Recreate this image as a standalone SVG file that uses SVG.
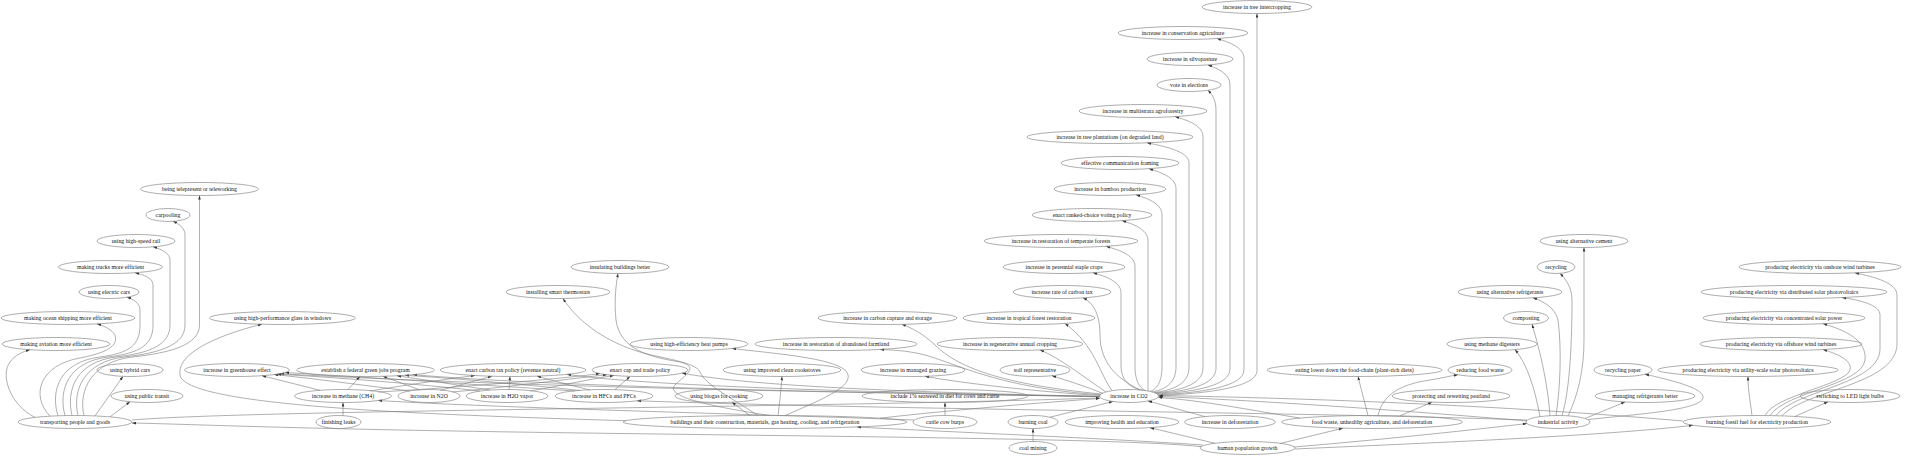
<svg xmlns="http://www.w3.org/2000/svg" width="1920" height="457" viewBox="0 0 1920 457">
<style>
.node ellipse{fill:none;stroke:#8a8a8a;stroke-width:0.7}
.node text{font-family:"Liberation Serif","Times New Roman",serif;font-size:5.8px;text-anchor:middle;fill:#111}
.edges path{fill:none;stroke:#7a7a7a;stroke-width:0.6;marker-end:url(#arr)}
</style>
<defs>
<marker id="arr" viewBox="0 0 6 4" refX="6" refY="2" markerWidth="4" markerHeight="3" markerUnits="userSpaceOnUse" orient="auto"><path d="M0,0 L6,2 L0,4 z" fill="#333"/></marker>
</defs>
<rect width="1920" height="457" fill="#fff"/>
<g id="edges" class="edges">
<!-- CO2 column -->
<path d="M1140 390 C1120 380 1100 365 1100 335 C1100 315 1094 303 1083 297.9"/>
<path d="M1143 390.3 C1132 388.3 1121 382.3 1121 365.3 L1121 292.7 C1121 280.7 1102.8 275.7 1093 272.7"/>
<path d="M1146 390.7 C1140.5 388.7 1135 382.7 1135 365.7 L1135 266.3 C1135 254.3 1116.2 249.3 1106 246.3"/>
<path d="M1148 391 C1148 389 1148 383 1148 366 L1148 240.6 C1148 228.6 1131.1 223.6 1122 220.6"/>
<path d="M1150 391.4 C1156 389.4 1162 383.4 1162 366.4 L1162 214.8 C1162 202.8 1145.1 197.8 1136 194.8"/>
<path d="M1152 391.9 C1164 389.9 1176 383.9 1176 366.9 L1176 188.7 C1176 176.7 1158.5 171.7 1149 168.7"/>
<path d="M1154 392.5 C1171.5 390.5 1189 384.5 1189 367.5 L1189 162.8 C1189 150.8 1161.7 145.8 1147 142.8"/>
<path d="M1155 392.9 C1179 390.9 1203 384.9 1203 367.9 L1203 136.6 C1203 124.6 1184.8 119.6 1175 116.6"/>
<path d="M1156 393.4 C1186 391.4 1216 385.4 1216 368.4 L1216 110.2 C1216 98.2 1210.8 93.2 1208 90.2"/>
<path d="M1157 394 C1193.5 392 1230 386 1230 369 L1230 84.9 C1230 72.9 1215.7 67.9 1208 64.9"/>
<path d="M1158 394.8 C1201 392.8 1244 386.8 1244 369.8 L1244 58.5 C1244 46.5 1226.5 41.5 1217 38.5"/>
<path d="M1158.5 395.5 C1207 393.5 1257 387.5 1257 370.5 L1257 13.5"/>
<!-- CO2 to nearby -->
<path d="M1101 394 C1010 385 960 370 935 345 C922 333 912 328 902 324.4"/>
<path d="M1112 390.5 C1100 375 1095 345 1065 323.5"/>
<path d="M1106 392 C1085 378 1060 358 1040 349.9"/>
<path d="M1103 393.5 C1085 386 1065 380 1052 375.7"/>
<path d="M1100 395.5 C1040 392 960 383 925 376.3"/>
<path d="M1101 394.8 C1000 388 960 365 925 355 C905 350 890 350 880 349.5"/>
<path d="M1099.5 396.5 C800 392 500 386 280 373.7"/>
<path d="M1099.5 396.5 C800 392 550 386 413 374.7"/>
<path d="M1099.5 396.5 C850 392 650 386 567 374.4"/>
<path d="M1099.5 396.5 C900 392 750 386 682 373.1"/>
<!-- gases -->
<path d="M320 390.3 L262 375.7"/>
<path d="M348 389.6 L360 376.5"/>
<path d="M370 391 C400 386 440 380 475 375.5"/>
<path d="M378 392 C450 388 550 380 600 373.6"/>
<path d="M410 391 C360 385 310 378 274 374.6"/>
<path d="M420 390 L383 376.3"/>
<path d="M440 390.5 L492 376.2"/>
<path d="M452 392 C500 388 560 380 607 374.7"/>
<path d="M480 391 C420 384 330 377 277 374.2"/>
<path d="M490 390 C450 384 420 379 397 375.8"/>
<path d="M509 389.5 L510 376.5"/>
<path d="M530 391 C560 386 590 379 614 375.5"/>
<path d="M575 391 C480 385 350 376 285 372.6"/>
<path d="M580 390.5 C520 384 450 378 405 375.3"/>
<path d="M590 390 C570 385 550 380 537 376.1"/>
<path d="M615 389.7 L630 376.4"/>
<path d="M343 415.5 L343 402.5"/>
<path d="M945 415.5 L945 402.5"/>
<path d="M914 420 C750 414 500 408 378 400.5"/>
<path d="M1527 420 C1300 412 900 410 637 400.8"/>
<!-- transport -->
<path d="M35 417.4 C10 405 0 375 10 362 C15 355 22 352 30 349.7"/>
<path d="M50 416.2 C30 395 40 365 80 358 C110 352 118 345 115 335 C112 330 105 326 97 323.9"/>
<path d="M58 415.8 C50 390 60 362 100 357 C130 353 140 345 140 325 L140 310 C140 303 133 299 127 297.2"/>
<path d="M65 415.6 C58 390 68 362 108 357 C140 353 153 345 153 325 L153 285 C153 278 144 275 135 272.7"/>
<path d="M72 415.5 C66 390 76 362 116 357 C150 353 170 345 170 325 L170 260 C170 253 161 249 153 246.8"/>
<path d="M78 415.5 C72 390 84 362 124 357 C160 353 185 345 185 325 L185 235 C185 228 179 224 173 221.3"/>
<path d="M84 415.6 C78 390 92 362 132 357 C170 353 199.5 345 199.5 325 L199.5 195.5"/>
<path d="M95 415.9 L123 376.4"/>
<path d="M110 416.9 L130 401.7"/>
<path d="M132 420 C250 410 800 408 1099.7 398"/>
<!-- population -->
<path d="M1201 446.7 C1120 437 700 436 400 430 C250 427 180 424 132 423"/>
<path d="M1203 445 C1100 438 950 432 857 427"/>
<path d="M1215 443.3 L1150 427.7"/>
<path d="M1280 443.5 L1343 428.2"/>
<path d="M1294 447 C1400 438 1470 430 1527 423.6"/>
<path d="M1295 449 C1450 442 1600 436 1693 425.3"/>
<path d="M1033 441.5 L1033 428.5"/>
<path d="M1050 417.2 L1113 401.5"/>
<path d="M1205 416.6 L1148 401"/>
<path d="M1300 418.1 C1250 410 1200 400 1158.5 397.5"/>
<path d="M1527 421 C1400 410 1250 400 1158.7 396.5"/>
<path d="M1683 421 C1500 405 1300 398 1158.7 395.5"/>
<!-- food waste -->
<path d="M1368 415.5 L1358 376.5"/>
<path d="M1378 415.6 C1382 398 1395 385 1430 380 C1442 378 1450 376 1458 374.7"/>
<path d="M1400 415.8 L1432 402.2"/>
<!-- industrial -->
<path d="M1568 416 C1578 395 1584 370 1584 340 L1584 247.5"/>
<path d="M1562 415.5 C1570 390 1572 340 1572 300 C1572 288 1566 279 1560 273.4"/>
<path d="M1556 415.5 C1560 390 1562 350 1558 320 C1555 308 1545 302 1533 297.8"/>
<path d="M1550 415.8 C1548 385 1540 350 1532 324.3"/>
<path d="M1540 416.6 C1535 390 1528 365 1515 349.6"/>
<path d="M1588 419.5 C1640 414 1700 410 1703 398 C1705 388 1670 380 1645 374.2"/>
<path d="M1585 418.5 L1625 402"/>
<!-- fossil -->
<path d="M1752 415.5 C1750 400 1748 390 1748 376.5"/>
<path d="M1795 416.4 L1828 401.8"/>
<path d="M1765 415.5 C1775 395 1845 385 1850 370 C1853 360 1835 353 1823 349.6"/>
<path d="M1770 415.6 C1785 392 1862 385 1865 360 C1867 340 1845 330 1823 323.7"/>
<path d="M1776 415.7 C1795 390 1878 385 1880 350 L1880 315 C1880 305 1860 300 1842 297.6"/>
<path d="M1782 415.9 C1805 390 1895 385 1897 345 L1897 295 C1897 283 1875 277 1855 272.9"/>
<!-- buildings -->
<path d="M626 420.7 C400 414 185 405 180 375 C176 350 230 332 262 324.2"/>
<path d="M770 415.5 C700 405 665 395 675 385 C685 375 700 367 680 362 C650 357 620 350 616 320 C614 300 616 285 618 273.5"/>
<path d="M758 415.6 C735 400 705 385 700 372 C696 362 660 358 640 352 C610 343 580 325 563 298.5"/>
<path d="M785 415.6 C820 400 860 385 845 370 C830 358 780 354 732 348.5"/>
<path d="M778 415.6 C780 400 781 390 782 376.5"/>
<path d="M750 415.7 L732 402.2"/>
<path d="M880 418.2 C950 410 1050 402 1099.6 398.5"/>
</g>
<g id="n-tree-intercropping" class="node"><ellipse cx="1257" cy="7" rx="55" ry="6.5"/><text x="1257" y="9">increase in tree intercropping</text></g>
<g id="n-conservation" class="node"><ellipse cx="1183" cy="33" rx="65" ry="6.5"/><text x="1183" y="35">increase in conservation agriculture</text></g>
<g id="n-silvopasture" class="node"><ellipse cx="1190" cy="59" rx="43" ry="6.5"/><text x="1190" y="61">increase in silvopasture</text></g>
<g id="n-vote" class="node"><ellipse cx="1189" cy="85" rx="32" ry="6.5"/><text x="1189" y="87">vote in elections</text></g>
<g id="n-multistrata" class="node"><ellipse cx="1143" cy="111" rx="64" ry="6.5"/><text x="1143" y="113">increase in multistrata agroforestry</text></g>
<g id="n-tree-plantations" class="node"><ellipse cx="1110" cy="137" rx="83" ry="6.5"/><text x="1110" y="139">increase in tree plantations (on degraded land)</text></g>
<g id="n-communication" class="node"><ellipse cx="1120" cy="163" rx="59" ry="6.5"/><text x="1120" y="165">effective communication framing</text></g>
<g id="n-bamboo" class="node"><ellipse cx="1110" cy="189" rx="56" ry="6.5"/><text x="1110" y="191">increase in bamboo production</text></g>
<g id="n-ranked" class="node"><ellipse cx="1092" cy="215" rx="60" ry="6.5"/><text x="1092" y="217">enact ranked-choice voting policy</text></g>
<g id="n-temperate" class="node"><ellipse cx="1061" cy="241" rx="77" ry="6.5"/><text x="1061" y="243">increase in restoration of temperate forests</text></g>
<g id="n-perennial" class="node"><ellipse cx="1064" cy="267" rx="61" ry="6.5"/><text x="1064" y="269">increase in perennial staple crops</text></g>
<g id="n-taxrate" class="node"><ellipse cx="1062" cy="292" rx="49" ry="6.5"/><text x="1062" y="294">increase rate of carbon tax</text></g>
<g id="n-telepresent" class="node"><ellipse cx="199.5" cy="189" rx="59" ry="6.5"/><text x="199.5" y="191">being telepresent or teleworking</text></g>
<g id="n-carpooling" class="node"><ellipse cx="168" cy="215" rx="22" ry="6.5"/><text x="168" y="217">carpooling</text></g>
<g id="n-hsr" class="node"><ellipse cx="136" cy="241" rx="39" ry="6.5"/><text x="136" y="243">using high-speed rail</text></g>
<g id="n-trucks" class="node"><ellipse cx="110.5" cy="267" rx="52" ry="6.5"/><text x="110.5" y="269">making trucks more efficient</text></g>
<g id="n-ecars" class="node"><ellipse cx="109" cy="292" rx="30" ry="6.5"/><text x="109" y="294">using electric cars</text></g>
<g id="n-shipping" class="node"><ellipse cx="68" cy="318" rx="67" ry="6.5"/><text x="68" y="320">making ocean shipping more efficient</text></g>
<g id="n-glass" class="node"><ellipse cx="282.5" cy="318" rx="73" ry="6.5"/><text x="282.5" y="320">using high-performance glass in windows</text></g>
<g id="n-aviation" class="node"><ellipse cx="56" cy="344" rx="54" ry="6.5"/><text x="56" y="346">making aviation more efficient</text></g>
<g id="n-hybrid" class="node"><ellipse cx="130" cy="370" rx="33" ry="6.5"/><text x="130" y="372">using hybrid cars</text></g>
<g id="n-ghe" class="node"><ellipse cx="237" cy="370" rx="52.5" ry="6.5"/><text x="237" y="372">increase in greenhouse effect</text></g>
<g id="n-greenjobs" class="node"><ellipse cx="365.5" cy="370" rx="69" ry="6.5"/><text x="365.5" y="372">establish a federal green jobs program</text></g>
<g id="n-carbontax" class="node"><ellipse cx="513" cy="370" rx="73" ry="6.5"/><text x="513" y="372">enact carbon tax policy (revenue neutral)</text></g>
<g id="n-transit" class="node"><ellipse cx="147" cy="396" rx="36" ry="6.5"/><text x="147" y="398">using public transit</text></g>
<g id="n-ch4" class="node"><ellipse cx="343" cy="396" rx="48.5" ry="6.5"/><text x="343" y="398">increase in methane (CH4)</text></g>
<g id="n-n2o" class="node"><ellipse cx="429" cy="396" rx="31" ry="6.5"/><text x="429" y="398">increase in N2O</text></g>
<g id="n-h2o" class="node"><ellipse cx="507" cy="396" rx="41" ry="6.5"/><text x="507" y="398">increase in H2O vapor</text></g>
<g id="n-hfc" class="node"><ellipse cx="604" cy="396" rx="49" ry="6.5"/><text x="604" y="398">increase in HFCs and PFCs</text></g>
<g id="n-transport" class="node"><ellipse cx="75" cy="422" rx="57" ry="6.5"/><text x="75" y="424">transporting people and goods</text></g>
<g id="n-leaks" class="node"><ellipse cx="338.5" cy="422" rx="22.5" ry="6.5"/><text x="338.5" y="424">finishing leaks</text></g>
<g id="n-insulating" class="node"><ellipse cx="620" cy="267" rx="49" ry="6.5"/><text x="620" y="269">insulating buildings better</text></g>
<g id="n-thermostats" class="node"><ellipse cx="558" cy="292" rx="52" ry="6.5"/><text x="558" y="294">installing smart thermostats</text></g>
<g id="n-ccs" class="node"><ellipse cx="887.5" cy="318" rx="69.5" ry="6.5"/><text x="887.5" y="320">increase in carbon capture and storage</text></g>
<g id="n-heatpumps" class="node"><ellipse cx="689" cy="344" rx="59" ry="6.5"/><text x="689" y="346">using high-efficiency heat pumps</text></g>
<g id="n-farmland" class="node"><ellipse cx="836" cy="344" rx="81" ry="6.5"/><text x="836" y="346">increase in restoration of abandoned farmland</text></g>
<g id="n-captrade" class="node"><ellipse cx="640" cy="370" rx="48" ry="6.5"/><text x="640" y="372">enact cap and trade policy</text></g>
<g id="n-cookstoves" class="node"><ellipse cx="782" cy="370" rx="59" ry="6.5"/><text x="782" y="372">using improved clean cookstoves</text></g>
<g id="n-grazing" class="node"><ellipse cx="913" cy="370" rx="52" ry="6.5"/><text x="913" y="372">increase in managed grazing</text></g>
<g id="n-biogas" class="node"><ellipse cx="719" cy="396" rx="44" ry="6.5"/><text x="719" y="398">using biogas for cooking</text></g>
<g id="n-seaweed" class="node"><ellipse cx="945" cy="396" rx="83" ry="6.5"/><text x="945" y="398">include 1% seaweed in diet for cows and cattle</text></g>
<g id="n-buildings" class="node"><ellipse cx="765" cy="422" rx="142" ry="6.5"/><text x="765" y="424">buildings and their construction, materials, gas heating, cooling, and refrigeration</text></g>
<g id="n-cowburps" class="node"><ellipse cx="945" cy="422" rx="32" ry="6.5"/><text x="945" y="424">cattle cow burps</text></g>
<g id="n-tropical" class="node"><ellipse cx="1029" cy="318" rx="66" ry="6.5"/><text x="1029" y="320">increase in tropical forest restoration</text></g>
<g id="n-regen" class="node"><ellipse cx="1010" cy="344" rx="73" ry="6.5"/><text x="1010" y="346">increase in regenerative annual cropping</text></g>
<g id="n-soil" class="node"><ellipse cx="1035" cy="370" rx="35" ry="6.5"/><text x="1035" y="372">soil representative</text></g>
<g id="n-eating" class="node"><ellipse cx="1354.5" cy="370" rx="87.5" ry="6.5"/><text x="1354.5" y="372">eating lower down the food-chain (plant-rich diets)</text></g>
<g id="n-co2" class="node"><ellipse cx="1129" cy="396" rx="29.5" ry="6.5"/><text x="1129" y="398">increase in CO2</text></g>
<g id="n-coal" class="node"><ellipse cx="1033" cy="422" rx="25" ry="6.5"/><text x="1033" y="424">burning coal</text></g>
<g id="n-health" class="node"><ellipse cx="1122" cy="422" rx="57" ry="6.5"/><text x="1122" y="424">improving health and education</text></g>
<g id="n-deforestation" class="node"><ellipse cx="1230" cy="422" rx="45.5" ry="6.5"/><text x="1230" y="424">increase in deforestation</text></g>
<g id="n-foodwaste" class="node"><ellipse cx="1372" cy="422" rx="90.5" ry="6.5"/><text x="1372" y="424">food waste, unhealthy agriculture, and deforestation</text></g>
<g id="n-coalmining" class="node"><ellipse cx="1033" cy="448" rx="24" ry="6.5"/><text x="1033" y="450">coal mining</text></g>
<g id="n-population" class="node"><ellipse cx="1247.5" cy="448" rx="47.5" ry="6.5"/><text x="1247.5" y="450">human population growth</text></g>
<g id="n-reducefw" class="node"><ellipse cx="1480" cy="370" rx="32" ry="6.5"/><text x="1480" y="372">reducing food waste</text></g>
<g id="n-peatland" class="node"><ellipse cx="1451" cy="396" rx="59" ry="6.5"/><text x="1451" y="398">protecting and rewetting peatland</text></g>
<g id="n-composting" class="node"><ellipse cx="1526" cy="318" rx="22.5" ry="6.5"/><text x="1526" y="320">composting</text></g>
<g id="n-digesters" class="node"><ellipse cx="1492" cy="344" rx="45" ry="6.5"/><text x="1492" y="346">using methane digesters</text></g>
<g id="n-recyclepaper" class="node"><ellipse cx="1623" cy="370" rx="29" ry="6.5"/><text x="1623" y="372">recycling paper</text></g>
<g id="n-utility" class="node"><ellipse cx="1748" cy="370" rx="90" ry="6.5"/><text x="1748" y="372">producing electricity via utility-scale solar photovoltaics</text></g>
<g id="n-refrig" class="node"><ellipse cx="1645" cy="396" rx="50" ry="6.5"/><text x="1645" y="398">managing refrigerants better</text></g>
<g id="n-led" class="node"><ellipse cx="1850" cy="396" rx="50" ry="6.5"/><text x="1850" y="398">switching to LED light bulbs</text></g>
<g id="n-industrial" class="node"><ellipse cx="1558" cy="422" rx="32" ry="6.5"/><text x="1558" y="424">industrial activity</text></g>
<g id="n-fossil" class="node"><ellipse cx="1757" cy="422" rx="74" ry="6.5"/><text x="1757" y="424">burning fossil fuel for electricity production</text></g>
<g id="n-csp" class="node"><ellipse cx="1784" cy="318" rx="81" ry="6.5"/><text x="1784" y="320">producing electricity via concentrated solar power</text></g>
<g id="n-offshore" class="node"><ellipse cx="1781" cy="344" rx="81" ry="6.5"/><text x="1781" y="346">producing electricity via offshore wind turbines</text></g>
<g id="n-cement" class="node"><ellipse cx="1584" cy="241" rx="44" ry="6.5"/><text x="1584" y="243">using alternative cement</text></g>
<g id="n-recycling" class="node"><ellipse cx="1556" cy="267" rx="19" ry="6.5"/><text x="1556" y="269">recycling</text></g>
<g id="n-altrefrig" class="node"><ellipse cx="1510" cy="292" rx="52" ry="6.5"/><text x="1510" y="294">using alternative refrigerants</text></g>
<g id="n-onshore" class="node"><ellipse cx="1820" cy="267" rx="81" ry="6.5"/><text x="1820" y="269">producing electricity via onshore wind turbines</text></g>
<g id="n-distributed" class="node"><ellipse cx="1794" cy="292" rx="93" ry="6.5"/><text x="1794" y="294">producing electricity via distributed solar photovoltaics</text></g>
</svg>
